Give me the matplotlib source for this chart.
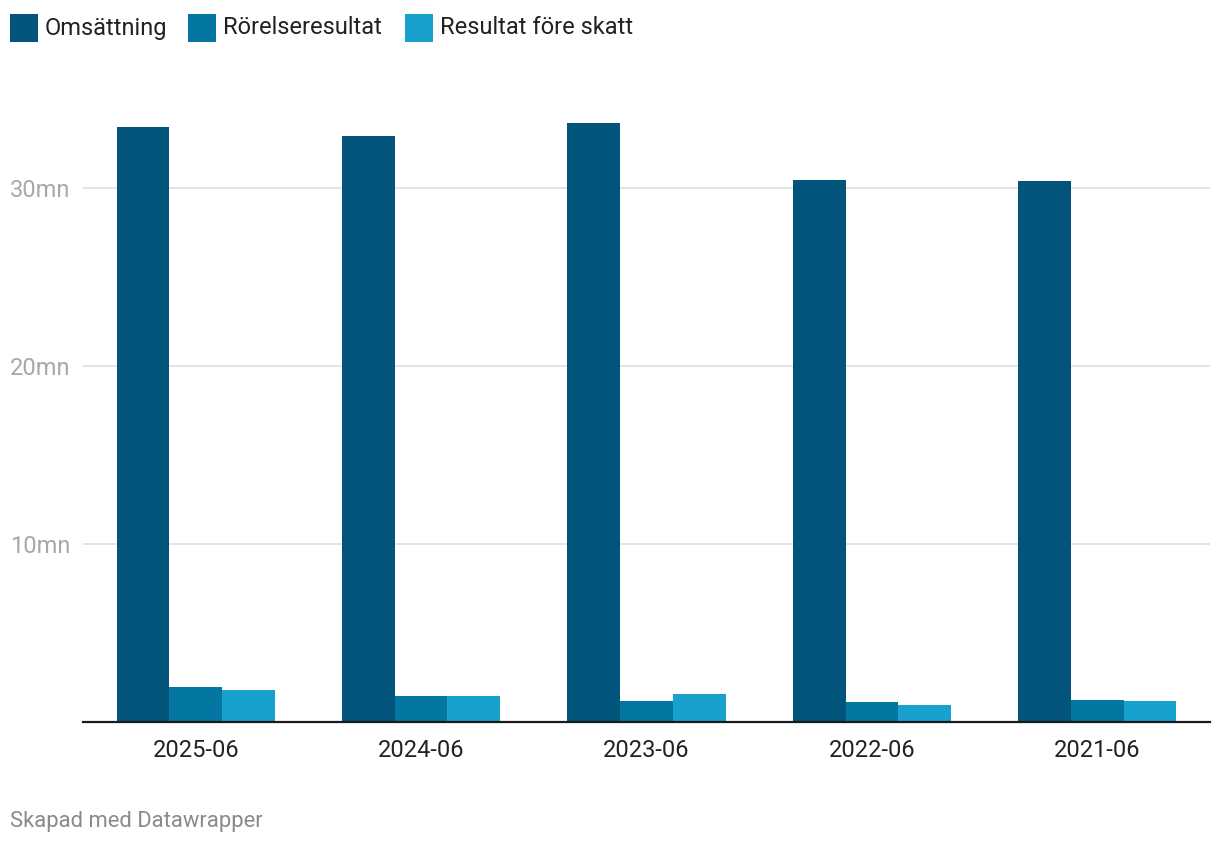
import matplotlib
matplotlib.use("Agg")
import matplotlib.pyplot as plt
from matplotlib.patches import Rectangle
import numpy as np

plt.rcParams['font.family'] = ['Roboto', 'DejaVu Sans']

categories = ["2025-06", "2024-06", "2023-06", "2022-06", "2021-06"]
series_names = ["Omsättning", "Rörelseresultat", "Resultat före skatt"]
omsattning = [33.43, 32.92, 33.65, 30.45, 30.39]
rorelseresultat = [1.97, 1.46, 1.18, 1.12, 1.24]
resultat_fore_skatt = [1.80, 1.46, 1.57, 0.96, 1.18]
yticks = [10, 20, 30]
ytick_labels = ["10mn", "20mn", "30mn"]
colors = ["#03547b", "#0377a2", "#19a1ce"]

W, H = 1220, 844
fig = plt.figure(figsize=(W / 100, H / 100), dpi=100)
ax = fig.add_axes([83 / W, 122 / H, (1210 - 83) / W, 623 / H])

x = np.arange(len(categories))
bw = 0.234
series = [omsattning, rorelseresultat, resultat_fore_skatt]
for i, (vals, c) in enumerate(zip(series, colors)):
    ax.bar(x + (i - 1) * bw, vals, width=bw, color=c, zorder=3, linewidth=0)

ax.set_xlim(-0.5, len(categories) - 0.5)
ax.set_ylim(0, 35)
for s in ["top", "right", "left"]:
    ax.spines[s].set_visible(False)
ax.spines["bottom"].set_color("#1a1a1a")
ax.spines["bottom"].set_linewidth(1.6)
ax.spines["bottom"].set_zorder(4)

ax.set_yticks(yticks)
ax.set_yticklabels(ytick_labels)
ax.yaxis.grid(True, color="#e3e3e3", linewidth=1.4, zorder=0)
ax.tick_params(axis="y", left=False, pad=49, labelsize=17, labelcolor="#a8a8a8")
for lab in ax.get_yticklabels():
    lab.set_horizontalalignment("left")

ax.set_xticks(x)
ax.set_xticklabels(categories)
ax.tick_params(axis="x", bottom=False, pad=8.5, labelsize=17, labelcolor="#222222")

# legend
legend_x = [10, 188, 405]
for lx, name, c in zip(legend_x, series_names, colors):
    fig.add_artist(Rectangle((lx / W, (H - 42) / H), 28 / W, 28 / H,
                             transform=fig.transFigure, color=c, linewidth=0))
    fig.text((lx + 35) / W, (H - 28) / H, name, fontsize=17, color="#222222",
             ha="left", va="center")

fig.text(10 / W, (H - 821) / H, "Skapad med Datawrapper", fontsize=15.8,
         color="#8a8a8a", ha="left", va="center")

fig.savefig("out.png", dpi=100)
